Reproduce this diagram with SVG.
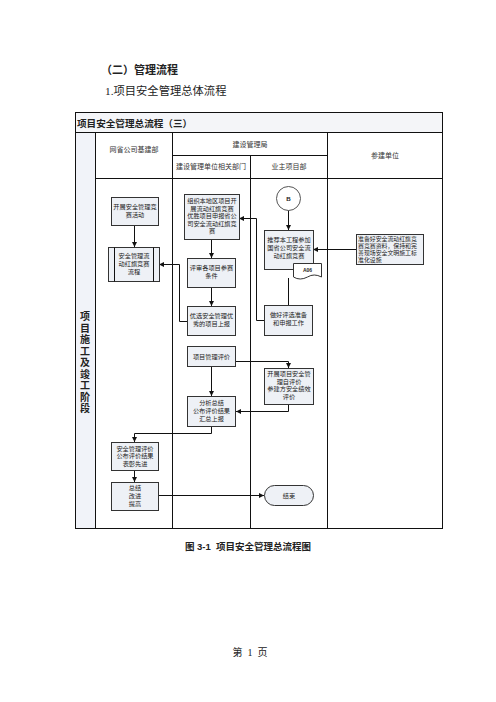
<svg xmlns="http://www.w3.org/2000/svg" width="496" height="702" viewBox="0 0 496 702">
<style>
text{font-family:"Liberation Sans","Noto Sans CJK SC",sans-serif;fill:#222}
.t{font-size:6.2px;text-anchor:middle}
.h{font-size:7px;text-anchor:middle;fill:#333}
.box{fill:#eef1f6;stroke:#333;stroke-width:1}
.grid{stroke:#111;stroke-width:1;fill:none}
.c{stroke:#111;stroke-width:1;fill:none}
</style>
<defs>
<marker id="ar" markerUnits="userSpaceOnUse" markerWidth="6" markerHeight="6" refX="5" refY="3" orient="auto">
<path d="M0,0.5 L5,3 L0,5.5 Z" fill="#111"/>
</marker>
</defs>
<rect width="496" height="702" fill="#fff"/>
<text x="101" y="74" style="font-size:11px;font-weight:bold">（二）管理流程</text>
<text x="105" y="95" style="font-size:11.3px;font-family:'Liberation Serif','Noto Sans CJK SC',serif">1.项目安全管理总体流程</text>

<g id="table">
<rect x="75.5" y="112.5" width="367" height="416" fill="#fff" stroke="#111"/>
<rect x="76" y="113" width="366" height="19" fill="#f4f5f8"/>
<rect x="76" y="133" width="19" height="395" fill="#f1f3f9"/>
<line class="grid" x1="75.5" y1="132.5" x2="442.5" y2="132.5"/>
<line class="grid" x1="95.5" y1="132.5" x2="95.5" y2="528.5"/>
<line class="grid" x1="172.5" y1="132.5" x2="172.5" y2="528.5"/>
<line class="grid" x1="250.5" y1="155.5" x2="250.5" y2="528.5"/>
<line class="grid" x1="327.5" y1="132.5" x2="327.5" y2="528.5"/>
<line class="grid" x1="172.5" y1="155.5" x2="327.5" y2="155.5"/>
<line class="grid" x1="95.5" y1="178.5" x2="442.5" y2="178.5"/>
<text x="77" y="127" style="font-size:9.6px;font-weight:bold">项目安全管理总流程（三）</text>
<text class="h" x="134" y="152">网省公司基建部</text>
<text class="h" x="250" y="147">建设管理局</text>
<text class="h" x="211" y="169">建设管理单位相关部门</text>
<text class="h" x="289" y="169">业主项目部</text>
<text class="h" x="385" y="158">参建单位</text>
<g style="font-size:10px;font-weight:bold;text-anchor:middle">
<text x="85" y="320">项</text>
<text x="85" y="331.5">目</text>
<text x="85" y="343">施</text>
<text x="85" y="354.5">工</text>
<text x="85" y="366">及</text>
<text x="85" y="377.5">竣</text>
<text x="85" y="389">工</text>
<text x="85" y="400.5">阶</text>
<text x="85" y="412">段</text>
</g>
</g>

<g id="connectors">
<path class="c" d="M134.5,225 V247" marker-end="url(#ar)"/>
<path class="c" d="M211.5,239 V258" marker-end="url(#ar)"/>
<path class="c" d="M211.5,288 V306" marker-end="url(#ar)"/>
<path class="c" d="M187,321.5 H179.5 V264.5 H159" marker-end="url(#ar)"/>
<path class="c" d="M264,320.5 H256.5 V218.5 H239" marker-end="url(#ar)"/>
<path class="c" d="M288.5,210 V230" marker-end="url(#ar)"/>
<path class="c" d="M288.5,278 V305"/>
<path class="c" d="M357,249.5 H313" marker-end="url(#ar)"/>
<path class="c" d="M236,361.5 H288.5 V368" marker-end="url(#ar)"/>
<path class="c" d="M211.5,366 V396" marker-end="url(#ar)"/>
<path class="c" d="M288.5,404 V411.5 H236" marker-end="url(#ar)"/>
<path class="c" d="M211.5,426 V433.5 H134.5 V442" marker-end="url(#ar)"/>
<path class="c" d="M134.5,470 V482" marker-end="url(#ar)"/>
<path class="c" d="M158,495.5 H264" marker-end="url(#ar)"/>
</g>

<g id="n1">
<rect class="box" x="111.5" y="197.5" width="47" height="28"/>
<text class="t" x="135" y="209">开展安全管理竞</text>
<text class="t" x="135" y="217">赛活动</text>
</g>
<g id="n2">
<rect class="box" x="108.5" y="247.5" width="51" height="34"/>
<line class="grid" x1="114.5" y1="247.5" x2="114.5" y2="281.5"/>
<line class="grid" x1="153.5" y1="247.5" x2="153.5" y2="281.5"/>
<text class="t" x="134" y="258">安全管理流</text>
<text class="t" x="134" y="266">动红旗竞赛</text>
<text class="t" x="134" y="274">流程</text>
</g>
<g id="n3">
<rect class="box" x="184.5" y="194.5" width="55" height="45"/>
<text class="t" x="212" y="203">组织本地区项目开</text>
<text class="t" x="212" y="210.6">展流动红旗竞赛</text>
<text class="t" x="212" y="218.2">优胜项目申报省公</text>
<text class="t" x="212" y="225.8">司安全流动红旗竞</text>
<text class="t" x="212" y="233.4">赛</text>
</g>
<g id="n4">
<rect class="box" x="187.5" y="258.5" width="48" height="29"/>
<text class="t" x="211.5" y="270">评审各项目参赛</text>
<text class="t" x="211.5" y="278">条件</text>
</g>
<g id="n5">
<rect class="box" x="187.5" y="306.5" width="48" height="29"/>
<text class="t" x="211.5" y="318">优选安全管理优</text>
<text class="t" x="211.5" y="326">秀的项目上报</text>
</g>
<g id="n6">
<rect class="box" x="187.5" y="346.5" width="48" height="20"/>
<text class="t" x="211.5" y="358.5">项目管理评价</text>
</g>
<g id="n7">
<rect class="box" x="187.5" y="396.5" width="48" height="30"/>
<text class="t" x="211.5" y="405">分析总结</text>
<text class="t" x="211.5" y="413">公布评价结果</text>
<text class="t" x="211.5" y="421">汇总上报</text>
</g>
<g id="n8">
<rect class="box" x="111.5" y="442.5" width="47" height="28"/>
<text class="t" x="135" y="450.5">安全管理评价</text>
<text class="t" x="135" y="458">公布评价结果</text>
<text class="t" x="135" y="465.5">表彰先进</text>
</g>
<g id="n9">
<rect class="box" x="111.5" y="482.5" width="47" height="28"/>
<text class="t" x="135" y="490">总结</text>
<text class="t" x="135" y="498">改进</text>
<text class="t" x="135" y="506">提高</text>
</g>
<g id="n10">
<rect class="box" x="264.5" y="485.5" width="49" height="20" rx="10"/>
<text class="t" x="289" y="497.5">结束</text>
</g>
<g id="n11">
<circle cx="288.5" cy="198.5" r="12" fill="#fff" stroke="#555"/>
<text class="t" x="288.5" y="201" style="font-weight:bold">B</text>
</g>
<g id="n12">
<rect class="box" x="264.5" y="230.5" width="49" height="39"/>
<text class="t" x="289" y="242">推荐本工程参加</text>
<text class="t" x="289" y="250">国省公司安全流</text>
<text class="t" x="289" y="258">动红旗竞赛</text>
</g>
<g id="n13">
<path d="M293.5,263.5 H321.5 V277 Q314,273 307.5,277 Q300,281 293.5,277 Z" fill="#fff" stroke="#333"/>
<text x="307.5" y="272" style="font-size:5px;font-weight:bold;text-anchor:middle">A06</text>
</g>
<g id="n14">
<rect class="box" x="264.5" y="305.5" width="48" height="30"/>
<text class="t" x="288.5" y="317">做好评选准备</text>
<text class="t" x="288.5" y="325">和申报工作</text>
</g>
<g id="n15">
<rect class="box" x="264.5" y="368.5" width="49" height="36"/>
<text class="t" x="289" y="376">开展项目安全管</text>
<text class="t" x="289" y="383.5">理自评价</text>
<text class="t" x="289" y="391">参建方安全绩效</text>
<text class="t" x="289" y="398.5">评价</text>
</g>
<g id="n16">
<rect class="box" x="356.5" y="234.5" width="67" height="30"/>
<g style="font-size:5.9px">
<text x="358" y="240.5">准备好安全流动红旗竞</text>
<text x="358" y="247.5">赛竞赛资料，保持和完</text>
<text x="358" y="254.5">善现场安全文明施工标</text>
<text x="358" y="261.5">准化设施</text>
</g>
</g>

<text x="248" y="550" style="font-size:9.5px;font-weight:bold;text-anchor:middle;white-space:pre">图 3-1  项目安全管理总流程图</text>
<text x="250" y="656" style="font-size:10px;text-anchor:middle;white-space:pre;font-family:'Liberation Serif','Noto Sans CJK SC',serif">第  1  页</text>
</svg>
